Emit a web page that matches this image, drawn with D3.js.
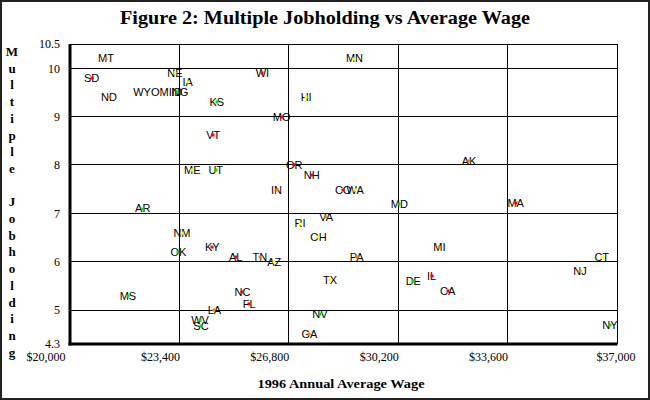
<!DOCTYPE html>
<html>
<head>
<meta charset="utf-8">
<script src="https://cdn.jsdelivr.net/npm/d3@7"></script>
<style>
  html, body { margin: 0; padding: 0; background: #fff; }
  svg { display: block; }
</style>
</head>
<body>
<svg id="chart" width="650" height="400"></svg>
<script>
// ---- Data ----
const states = ["MT","SD","ND","WYOMING","ID","NE","IA","KS","VT","WI","MN","HI","MO",
  "AK","MD","MA","MI","ME","UT","AR","NM","OK","KY","AL","MS","NC","FL","LA","WV","SC",
  "TN","AZ","RI","VA","OH","PA","TX","DE","NV","GA","IL","CA","NJ","CT","NY",
  "OR","NH","IN","CO","WA"];
const wages = [21120,20670,21210,22820,23320,23260,23660,24560,24450,25980,28840,27340,26580,
  32400,30235,33850,31480,23800,24530,22260,23480,23370,24420,25150,21800,25360,25570,24490,24040,24070,
  25900,26350,27150,27960,27720,28910,28080,30670,27770,27440,31240,31740,35850,36525,36780,
  26970,27510,26420,28490,28860];
const rates = [10.2,9.8,9.41,9.5,9.5,9.91,9.71,9.31,8.62,9.91,10.2,9.4,9.0,
  8.09,7.2,7.22,6.31,7.9,7.9,7.1,6.6,6.2,6.3,6.1,5.29,5.38,5.12,5.0,4.8,4.67,
  6.1,6.0,6.79,6.92,6.51,6.1,5.62,5.6,4.92,4.51,5.71,5.4,5.81,6.1,4.7,
  8.0,7.8,7.49,7.48,7.48];
const groups = ["B","A","B","B","D","C","C","D","A","A","C","C","A",
  "B","D","A","B","C","D","D","C","D","A","A","D","A","A","B","D","D",
  "B","C","C","B","C","B","C","D","D","B","A","A","B","C","D",
  "A","A","B","A","C"];
const groupNames = ["A","B","C","D"];
const groupColors = ["#ff0000","#ff8000","#ffff00","#00e000"];
const xTicks = [20000,23400,26800,30200,33600,37000];
const yTicks = [4.3,5,6,7,8,9,10,10.5];
const title = "Figure 2: Multiple Jobholding vs Average Wage";
const xTitle = "1996 Annual Average Wage";
const yTitle = "Multiple Jobholding";

// ---- Layout ----
const W = 650, H = 400;
const m = {left: 70, right: 33, top: 44, bottom: 56};
const svg = d3.select("#chart");

svg.append("rect").attr("x",1).attr("y",1).attr("width",W-2).attr("height",H-2)
  .attr("fill","#fff").attr("stroke","#222").attr("stroke-width",2);

const x = d3.scaleLinear().domain([20000,37000]).range([m.left, W-m.right]);
const y = d3.scaleLinear().domain([4.3,10.5]).range([H-m.bottom, m.top]);
const color = d3.scaleOrdinal().domain(groupNames).range(groupColors);

// Title
svg.append("text").attr("x", W/2).attr("y", 24).attr("text-anchor","middle")
  .attr("font-family","'Liberation Serif', serif").attr("font-weight","bold")
  .attr("font-size",18).attr("textLength",410).attr("lengthAdjust","spacingAndGlyphs")
  .text(title);

// Grid
const g = svg.append("g");
g.selectAll("line.vg").data(xTicks.slice(1)).join("line").attr("class","vg")
  .attr("x1",d=>x(d)).attr("x2",d=>x(d)).attr("y1",y(10.5)).attr("y2",y(4.3))
  .attr("stroke","#000").attr("stroke-width",1).attr("shape-rendering","crispEdges");
g.selectAll("line.hg").data(yTicks.filter(d=>d>4.3)).join("line").attr("class","hg")
  .attr("x1",x(20000)).attr("x2",x(37000)).attr("y1",d=>y(d)).attr("y2",d=>y(d))
  .attr("stroke","#000").attr("stroke-width",1).attr("shape-rendering","crispEdges");

// Thick left & bottom axes
svg.append("line").attr("x1",x(20000)).attr("x2",x(20000)).attr("y1",y(10.5)).attr("y2",y(4.3)+1.5)
  .attr("stroke","#000").attr("stroke-width",3);
svg.append("line").attr("x1",x(20000)-1.5).attr("x2",x(37000)+0.5).attr("y1",y(4.3)).attr("y2",y(4.3))
  .attr("stroke","#000").attr("stroke-width",3);

// Y axis labels
const yAxis = d3.axisLeft(y).tickValues(yTicks).tickSize(0).tickPadding(10).tickFormat(d=>String(d));
const ya = svg.append("g").attr("transform",`translate(${m.left},0)`).call(yAxis);
ya.select(".domain").remove();
ya.selectAll("text").attr("font-family","'Liberation Serif', serif").attr("font-size",12).attr("fill","#000");

// X axis labels
const xAxis = d3.axisBottom(x).tickValues(xTicks).tickSize(0).tickPadding(8)
  .tickFormat(d=>"$"+d3.format(",")(d));
const xa = svg.append("g").attr("transform",`translate(0,${H-m.bottom})`).call(xAxis);
xa.select(".domain").remove();
xa.selectAll("text").attr("font-family","'Liberation Serif', serif").attr("font-size",12)
  .attr("fill","#000").attr("text-anchor","end")
  .attr("dx",(d,i)=> i===0 ? -5 : (i===xTicks.length-1 ? 18 : 0));

// Axis titles
svg.append("text").attr("x",341).attr("y",388).attr("text-anchor","middle")
  .attr("font-family","'Liberation Serif', serif").attr("font-weight","bold").attr("font-size",13)
  .attr("textLength",167).attr("lengthAdjust","spacingAndGlyphs").text(xTitle);

const yt = svg.append("text").attr("font-family","'Liberation Serif', serif")
  .attr("font-weight","bold").attr("font-size",13).attr("text-anchor","middle");
yTitle.split("").forEach((ch,i)=>{
  yt.append("tspan").attr("x",12).attr("y",56 + i*16.7).text(ch === " " ? "\u00a0" : ch);
});

// Points
const pts = states.map((s,i)=>({s, w:wages[i], r:rates[i], g:groups[i]}));
svg.append("g").selectAll("text").data(pts).join("text")
  .attr("x",d=>x(d.w)).attr("y",d=>y(d.r)).attr("dy","0.36em")
  .attr("text-anchor","middle").attr("font-family","'Liberation Sans', Arial, sans-serif")
  .attr("font-size",11).attr("fill","#000").text(d=>d.s);
svg.append("g").selectAll("rect").data(pts).join("rect")
  .attr("x",d=>Math.round(x(d.w))-1.5).attr("y",d=>Math.round(y(d.r))-1.5)
  .attr("width",3).attr("height",3).attr("fill",d=>color(d.g));
</script>
</body>
</html>
